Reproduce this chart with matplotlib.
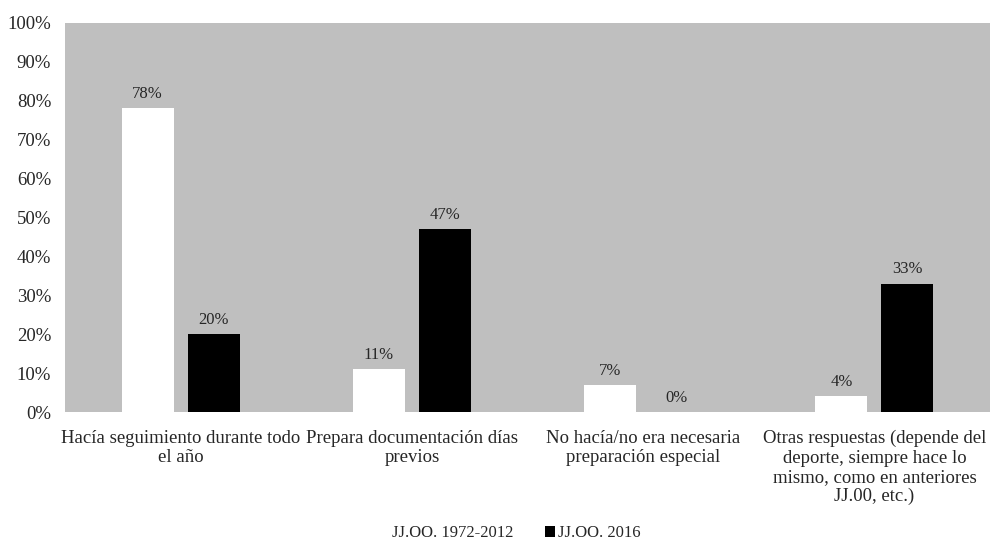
import numpy as np
import matplotlib.pyplot as plt

plt.rcParams['font.family'] = ['Liberation Serif', 'DejaVu Serif']

# respuestas y porcentajes por periodo
categorias = [
    'Hacía seguimiento durante todo\nel año',
    'Prepara documentación días\nprevios',
    'No hacía/no era necesaria\npreparación especial',
    'Otras respuestas (depende del\ndeporte, siempre hace lo\nmismo, como en anteriores\nJJ.00, etc.)',
]
serie_1972_2012 = [78, 11, 7, 4]
serie_2016 = [20, 47, 0, 33]
nombres = ['JJ.OO. 1972-2012', 'JJ.OO. 2016']

fig = plt.figure(figsize=(9.9, 5.4), dpi=100)
ax = fig.add_axes([0.0657, 0.237, 0.9343, 0.721])
ax.set_facecolor('#bfbfbf')

x = np.arange(len(categorias))
w = 0.225
off = 0.1425
b1 = ax.bar(x - off, serie_1972_2012, w, color='white', label=nombres[0])
b2 = ax.bar(x + off, serie_2016, w, color='black', label=nombres[1])

for bars, vals in ((b1, serie_1972_2012), (b2, serie_2016)):
    for rect, v in zip(bars, vals):
        ax.text(rect.get_x() + rect.get_width() / 2, v + 1.6, f'{v}%',
                ha='center', va='bottom', fontsize=12, color='#262626')

ax.set_xlim(-0.5, len(categorias) - 0.5)
ax.set_ylim(0, 100)
ax.set_yticks(range(0, 101, 10))
ax.set_yticklabels([f'{t}%' for t in range(0, 101, 10)], fontsize=13.5, color='#262626')
ax.set_xticks(x)
ax.set_xticklabels(categorias, fontsize=13.5, color='#262626', linespacing=1.17)
ax.tick_params(length=0, axis='y', pad=10)
ax.tick_params(length=0, axis='x', pad=13)
for s in ax.spines.values():
    s.set_visible(False)

fig.legend(handles=[b1, b2], labels=nombres, loc='lower center',
           bbox_to_anchor=(0.515, -0.03), ncol=2, frameon=False, fontsize=12,
           handlelength=0.6, handleheight=0.6, handletextpad=0.2, columnspacing=1.9,
           labelcolor='#262626')

fig.savefig('out.png', dpi=100)
